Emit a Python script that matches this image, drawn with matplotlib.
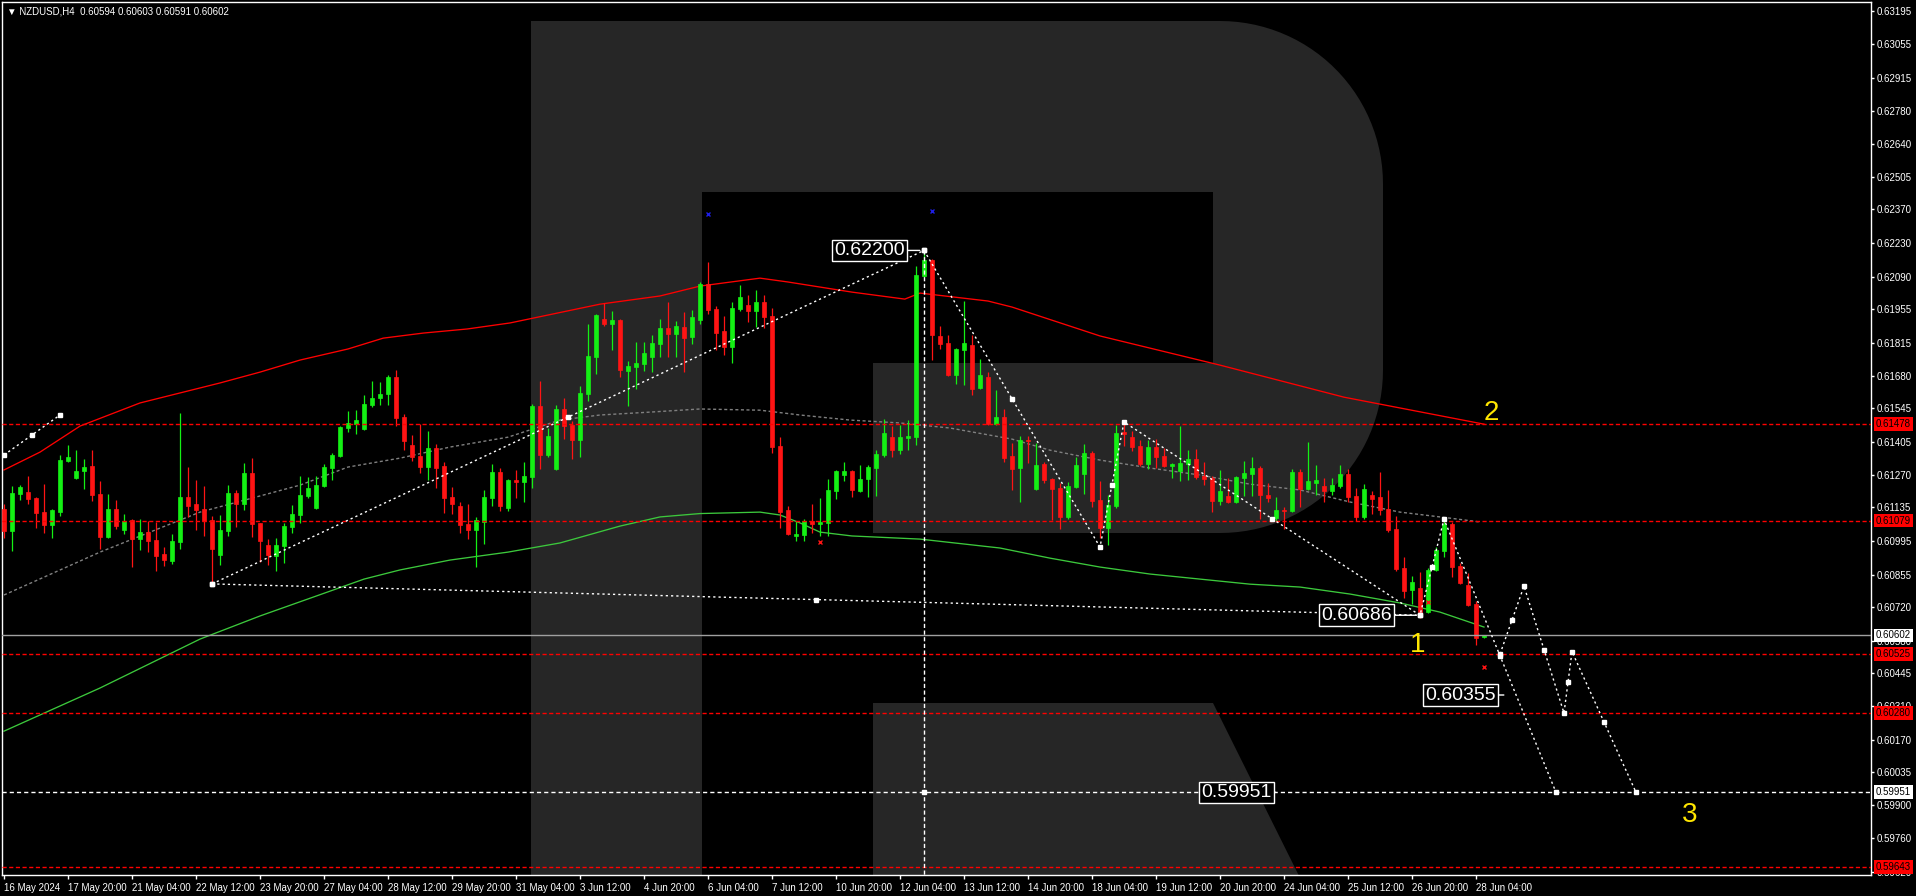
import numpy as np
import matplotlib
matplotlib.use('Agg')
import matplotlib.pyplot as plt
from matplotlib.patches import Polygon
from matplotlib import transforms

plt.rcParams['font.family'] = ['Liberation Sans', 'DejaVu Sans']

# ---------------- data ----------------
title = '\u25BC NZDUSD,H4  0.60594 0.60603 0.60591 0.60602'

opens = [0.61127,0.61036,0.61189,0.61197,0.61172,0.61114,0.61060,0.61114,0.61326,0.61255,
 0.61285,0.61305,0.61189,0.61011,0.61127,0.61040,0.61081,0.61002,0.61031,0.60998,
 0.60940,0.60911,0.60990,0.61177,0.61148,0.61127,0.61081,0.60936,0.61036,0.61193,
 0.61148,0.61276,0.61068,0.60977,0.60931,0.60973,0.61052,0.61102,0.61180,0.61131,
 0.61222,0.61297,0.61346,0.61463,0.61479,0.61458,0.61558,0.61587,0.61604,0.61674,
 0.61508,0.61392,0.61346,0.61301,0.61380,0.61305,0.61176,0.61139,0.61064,0.61039,
 0.61073,0.61172,0.61280,0.61131,0.61247,0.61239,0.61259,0.61554,0.61351,0.61292,
 0.61541,0.61475,0.61413,0.61604,0.61757,0.61915,0.61894,0.61911,0.61699,0.61716,
 0.61728,0.61757,0.61811,0.61877,0.61853,0.61882,0.61840,0.61911,0.62060,0.61956,
 0.61865,0.61799,0.61956,0.61973,0.61948,0.61985,0.61927,0.61388,0.61123,0.61014,
 0.61019,0.61077,0.61064,0.61068,0.61201,0.61267,0.61284,0.61201,0.61251,0.61297,
 0.61351,0.61425,0.61371,0.61421,0.61425,0.62093,0.62160,0.61844,0.61815,0.61682,
 0.61786,0.61807,0.61629,0.61674,0.61479,0.61508,0.61347,0.61297,0.61413,0.61210,
 0.61314,0.61251,0.61214,0.61094,0.61218,0.61272,0.61359,0.61164,0.61048,0.61139,
 0.61446,0.61426,0.61388,0.61314,0.61384,0.61347,0.61305,0.61284,0.61314,0.61334,
 0.61264,0.61255,0.61160,0.61181,0.61156,0.61255,0.61272,0.61297,0.61185,0.61090,
 0.61123,0.61119,0.61281,0.61210,0.61235,0.61223,0.61202,0.61223,0.61272,0.61181,
 0.61094,0.61185,0.61177,0.61127,0.61044,0.60882,0.60791,0.60800,0.60700,0.60874,
 0.60953,0.61065,0.60891,0.60812,0.60733,0.60594]
highs = [0.61148,0.61222,0.61226,0.61264,0.61175,0.61231,0.61127,0.61351,0.61392,0.61372,
 0.61334,0.61372,0.61243,0.61189,0.61164,0.61106,0.61085,0.61085,0.61077,0.61073,
 0.60969,0.61023,0.61525,0.61301,0.61247,0.61222,0.61098,0.61102,0.61226,0.61206,
 0.61318,0.61338,0.61070,0.61002,0.61006,0.61068,0.61143,0.61263,0.61259,0.61263,
 0.61313,0.61359,0.61471,0.61533,0.61537,0.61599,0.61658,0.61653,0.61682,0.61703,
 0.61521,0.61433,0.61479,0.61450,0.61396,0.61321,0.61218,0.61155,0.61147,0.61093,
 0.61205,0.61313,0.61297,0.61251,0.61288,0.61321,0.61562,0.61658,0.61463,0.61558,
 0.61587,0.61492,0.61637,0.61894,0.61935,0.61981,0.61948,0.61915,0.61741,0.61819,
 0.61819,0.61848,0.61915,0.61985,0.61906,0.61944,0.61952,0.62068,0.62151,0.61969,
 0.61927,0.61985,0.62056,0.62014,0.62035,0.62014,0.61960,0.61425,0.61139,0.61077,
 0.61085,0.61147,0.61172,0.61251,0.61288,0.61321,0.61288,0.61309,0.61309,0.61371,
 0.61500,0.61471,0.61475,0.61496,0.62135,0.62200,0.62163,0.61886,0.61848,0.61794,
 0.61989,0.61848,0.61749,0.61695,0.61620,0.61541,0.61399,0.61430,0.61430,0.61399,
 0.61322,0.61255,0.61235,0.61239,0.61343,0.61396,0.61367,0.61243,0.61185,0.61475,
 0.61493,0.61450,0.61413,0.61413,0.61417,0.61380,0.61318,0.61471,0.61372,0.61376,
 0.61322,0.61264,0.61289,0.61255,0.61264,0.61326,0.61343,0.61306,0.61235,0.61177,
 0.61136,0.61293,0.61293,0.61405,0.61310,0.61256,0.61256,0.61310,0.61293,0.61214,
 0.61231,0.61202,0.61281,0.61206,0.61098,0.60928,0.60849,0.60866,0.60882,0.60970,
 0.61090,0.61073,0.60903,0.60862,0.60746,0.60603]
lows = [0.61008,0.60954,0.61164,0.61148,0.61049,0.61029,0.61008,0.61099,0.61322,0.61250,
 0.61210,0.61161,0.60962,0.61008,0.61045,0.61025,0.60888,0.60958,0.60950,0.60871,
 0.60892,0.60900,0.60962,0.61095,0.61041,0.61016,0.60816,0.60896,0.61016,0.61054,
 0.61123,0.61012,0.60908,0.60894,0.60869,0.60902,0.61027,0.61068,0.61172,0.61127,
 0.61218,0.61247,0.61342,0.61446,0.61438,0.61454,0.61550,0.61558,0.61558,0.61471,
 0.61371,0.61326,0.61276,0.61247,0.61214,0.61110,0.61106,0.61027,0.61002,0.60887,
 0.60981,0.61139,0.61118,0.61118,0.61172,0.61156,0.61214,0.61292,0.61342,0.61288,
 0.61417,0.61334,0.61342,0.61575,0.61687,0.61886,0.61786,0.61674,0.61554,0.61624,
 0.61699,0.61695,0.61757,0.61757,0.61757,0.61695,0.61811,0.61894,0.61936,0.61786,
 0.61765,0.61732,0.61948,0.61902,0.61882,0.61877,0.61359,0.61048,0.61019,0.60994,
 0.60994,0.61027,0.61014,0.61014,0.61168,0.61243,0.61176,0.61197,0.61176,0.61180,
 0.61342,0.61342,0.61355,0.61371,0.61392,0.62090,0.61745,0.61790,0.61678,0.61645,
 0.61641,0.61599,0.61624,0.61475,0.61475,0.61321,0.61206,0.61157,0.61319,0.61206,
 0.61236,0.61081,0.61044,0.61085,0.61214,0.61189,0.61135,0.61006,0.60977,0.61131,
 0.61388,0.61367,0.61305,0.61293,0.61297,0.61301,0.61255,0.61243,0.61247,0.61251,
 0.61226,0.61114,0.61143,0.61152,0.61152,0.61181,0.61181,0.61086,0.61156,0.61077,
 0.61044,0.61115,0.61136,0.61206,0.61185,0.61156,0.61185,0.61214,0.61156,0.61077,
 0.61086,0.61107,0.61102,0.61032,0.60870,0.60758,0.60733,0.60675,0.60696,0.60870,
 0.60928,0.60845,0.60816,0.60725,0.60563,0.60591]
closes = [0.61036,0.61193,0.61218,0.61168,0.61110,0.61060,0.61123,0.61330,0.61343,0.61285,
 0.61301,0.61185,0.61011,0.61127,0.61056,0.61077,0.61002,0.61031,0.60994,0.60932,
 0.60915,0.60994,0.61177,0.61139,0.61123,0.61077,0.60961,0.61040,0.61193,0.61148,
 0.61276,0.61065,0.60995,0.60936,0.60977,0.61056,0.61106,0.61185,0.61214,0.61226,
 0.61301,0.61351,0.61467,0.61483,0.61496,0.61562,0.61587,0.61604,0.61674,0.61504,
 0.61409,0.61342,0.61301,0.61380,0.61297,0.61172,0.61147,0.61060,0.61039,0.61081,
 0.61176,0.61280,0.61139,0.61247,0.61239,0.61263,0.61554,0.61351,0.61429,0.61541,
 0.61471,0.61413,0.61608,0.61761,0.61931,0.61894,0.61911,0.61703,0.61720,0.61732,
 0.61774,0.61815,0.61877,0.61853,0.61886,0.61836,0.61923,0.62060,0.61952,0.61857,
 0.61799,0.61960,0.62006,0.61948,0.61985,0.61923,0.61384,0.61114,0.61023,0.61023,
 0.61077,0.61064,0.61073,0.61205,0.61284,0.61284,0.61205,0.61251,0.61301,0.61355,
 0.61442,0.61371,0.61425,0.61429,0.62097,0.62160,0.61848,0.61811,0.61682,0.61790,
 0.61815,0.61624,0.61682,0.61479,0.61508,0.61338,0.61293,0.61413,0.61408,0.61309,
 0.61247,0.61210,0.61094,0.61222,0.61309,0.61359,0.61160,0.61048,0.61143,0.61442,
 0.61438,0.61384,0.61314,0.61384,0.61343,0.61305,0.61314,0.61318,0.61334,0.61260,
 0.61251,0.61160,0.61201,0.61156,0.61260,0.61276,0.61297,0.61185,0.61173,0.61123,
 0.61119,0.61281,0.61210,0.61243,0.61248,0.61202,0.61227,0.61272,0.61177,0.61094,
 0.61210,0.61169,0.61123,0.61040,0.60878,0.60787,0.60824,0.60700,0.60874,0.60957,
 0.61065,0.60887,0.60820,0.60729,0.60592,0.60602]

# moving averages: (bar index, price)
red_ma_x = [0, 4.5, 9.5, 17, 27, 32, 37, 43, 47.4, 52.4, 57.9, 63.25, 74.5, 82, 87,
            94.5, 98, 106, 112.6, 114.5, 123, 126, 137, 152, 167.5, 185]
red_ma_y = [0.61289, 0.61363, 0.61471, 0.61567, 0.61650, 0.61695, 0.61745, 0.61791,
            0.61836, 0.61857, 0.61874, 0.61899, 0.61977, 0.62011, 0.62052, 0.62085,
            0.62069, 0.62027, 0.61998, 0.62023, 0.61990, 0.61965, 0.61845, 0.61724,
            0.61591, 0.61479]
green_ma_x = [0, 12, 24.5, 32, 45, 49.5, 55.75, 63, 69.5, 77, 82, 87, 94.5, 97, 99.5,
              102, 106, 114.5, 124.5, 130.75, 137, 143.25, 149.5, 155.75, 162, 168.25,
              174.5, 179.5, 185]
green_ma_y = [0.60205, 0.60384, 0.60587, 0.60683, 0.60836, 0.60874, 0.60915, 0.60948,
              0.60986, 0.61056, 0.61094, 0.61108, 0.61114, 0.61102, 0.61069, 0.61031,
              0.61015, 0.61002, 0.60965, 0.60923, 0.60886, 0.60857, 0.60836, 0.60815,
              0.60803, 0.60774, 0.60737, 0.60699, 0.60637]
gray_ma_x = [0, 12, 24.5, 32, 37, 43, 49.5, 55.75, 63, 69.5, 74.5, 80.75, 87, 94.5, 99.5,
             105.75, 112, 118.25, 126, 130.75, 137, 143.25, 149.5, 155.75, 162, 168.25,
             174.5, 180.75, 184.5]
gray_ma_y = [0.60770, 0.60948, 0.61114, 0.61181, 0.61226, 0.61301, 0.61338, 0.61384,
             0.61425, 0.61496, 0.61517, 0.61529, 0.61542, 0.61537, 0.61517, 0.61496,
             0.61484, 0.61463, 0.61417, 0.61371, 0.61330, 0.61297, 0.61268, 0.61230,
             0.61206, 0.61156, 0.61114, 0.61089, 0.61073]

# horizontal levels
red_levels = [0.61478, 0.61079, 0.60525, 0.60280, 0.59643]
current_price = 0.60602
target_level = 0.59951

# forecast wave paths (bar index, price)
fc_paths = [
    ([0, 7], [0.61351, 0.61517]),
    ([26, 115], [0.60816, 0.62200]),
    ([26, 177], [0.60816, 0.60686]),
    ([115, 137, 140, 177, 180, 194], [0.62200, 0.60969, 0.61488, 0.60686, 0.61085, 0.59951]),
    ([187, 190, 195, 196, 204], [0.60525, 0.60807, 0.60280, 0.60535, 0.59951]),
]
vline_bar = 115
vline_top = 0.62200

fc_labels = [('0.62200', 115, 0.62200, -19),
             ('0.60686', 177, 0.60686, -28),
             ('0.60355', 188, 0.60355, -12),
             ('0.59951', 159.5, 0.59951, -8)]
wave_labels = [('1', 176.75, 0.60562), ('2', 185.9, 0.61525), ('3', 210.75, 0.59857)]

frac_up_x, frac_up_y = [88, 116], [0.62351, 0.62363]
frac_dn_x, frac_dn_y = [102, 178, 185], [0.60990, 0.60741, 0.60471]

ytick_vals = [0.63195, 0.63055, 0.62915, 0.62780, 0.62640, 0.62505, 0.62370, 0.62230,
              0.62090, 0.61955, 0.61815, 0.61680, 0.61545, 0.61405, 0.61270, 0.61135,
              0.60995, 0.60855, 0.60720, 0.60580, 0.60445, 0.60310, 0.60170, 0.60035,
              0.59900, 0.59760, 0.59620]
xtick_labels = ['16 May 2024', '17 May 20:00', '21 May 04:00', '22 May 12:00', '23 May 20:00',
                '27 May 04:00', '28 May 12:00', '29 May 20:00', '31 May 04:00', '3 Jun 12:00',
                '4 Jun 20:00', '6 Jun 04:00', '7 Jun 12:00', '10 Jun 20:00', '12 Jun 04:00',
                '13 Jun 12:00', '14 Jun 20:00', '18 Jun 04:00', '19 Jun 12:00', '20 Jun 20:00',
                '24 Jun 04:00', '25 Jun 12:00', '26 Jun 20:00', '28 Jun 04:00']
xtick_step = 8

# ---------------- figure ----------------
W, H = 1916, 896
fig = plt.figure(figsize=(W / 100, H / 100), dpi=100, facecolor='black')
ax = fig.add_axes([2 / W, 21 / H, 1869 / W, 873 / H])
ax.set_facecolor('black')

YMIN, YMAX = 0.59608, 0.63231
XMIN, XMAX = -0.25, 233.375

# watermark "R" in pixel space
pix = transforms.Affine2D().scale(1 / W, -1 / H).translate(0, 1) + fig.transFigure
r = 163
t1 = np.linspace(np.pi / 2, 0, 30)
t2 = np.linspace(0, -np.pi / 2, 30)
arc1 = np.column_stack([1220 + r * np.cos(t1), 184 - r * np.sin(t1)])
arc2 = np.column_stack([1220 + r * np.cos(t2), 370 - r * np.sin(t2)])
bowl = np.vstack([[[531, 21]], arc1, arc2,
                  [[873, 533], [873, 363], [1213, 363], [1213, 192], [702, 192],
                   [702, 900], [531, 900]]])
leg = np.array([[873, 703], [1213, 703], [1311, 900], [873, 900]])
for poly in (bowl, leg):
    p = Polygon(poly, closed=True, facecolor='#262626', edgecolor='none',
                transform=pix, zorder=0)
    ax.add_patch(p)

# candles
idx = np.arange(len(opens))
o = np.array(opens); h = np.array(highs); l = np.array(lows); c = np.array(closes)
up = c >= o
GREEN, RED = '#14f014', '#ff1414'
cols = np.where(up, GREEN, RED)
ax.vlines(idx, l, h, colors=cols, lw=0.9, zorder=3)
ax.bar(idx, np.abs(c - o), bottom=np.minimum(o, c), width=0.62, color=cols,
       edgecolor=cols, linewidth=0.5, zorder=4)

# moving averages
ax.plot(red_ma_x, red_ma_y, color='#ff0000', lw=0.95, zorder=2)
ax.plot(green_ma_x, green_ma_y, color='#3cc83c', lw=0.95, zorder=2)
ax.plot(gray_ma_x, gray_ma_y, color='#808080', lw=1.0, ls=(0, (2.2, 1.8)), zorder=2)

# level lines
for lv in red_levels:
    ax.axhline(lv, color='#ff0000', lw=1.0, ls=(0, (3, 1.8)), zorder=4.5)
ax.axhline(current_price, color='#a0a0a0', lw=1.0, zorder=4.5)
ax.axhline(target_level, color='white', lw=1.0, ls=(0, (3, 2.2)), zorder=4.5)

# forecast paths
for xs, ys in fc_paths:
    ax.plot(xs, ys, color='white', lw=1.0, ls=(0, (1.6, 2.2)), zorder=6)
    mx = [(xs[k] + xs[k + 1]) / 2 for k in range(len(xs) - 1)]
    my = [(ys[k] + ys[k + 1]) / 2 for k in range(len(ys) - 1)]
    ax.plot(list(xs) + mx, list(ys) + my, ls='none', marker='s', ms=3.2,
            color='white', mec='white', zorder=7)
ax.plot([vline_bar, vline_bar], [vline_top, YMIN], color='white', lw=1.0,
        ls=(0, (3, 1.8)), zorder=6)
ax.plot([vline_bar], [target_level], ls='none', marker='s', ms=3.2, color='white', zorder=7)

ax.plot(frac_up_x, frac_up_y, ls='none', marker='x', ms=3, mew=1, color='#1e1ee6', zorder=7)
ax.plot(frac_dn_x, frac_dn_y, ls='none', marker='x', ms=3, mew=1, color='#ff1414', zorder=7)

for txt, bx, by, dx in fc_labels:
    ax.annotate(txt, xy=(bx, by), xytext=(dx, 0), textcoords='offset pixels',
                ha='right', va='center', color='white', fontsize=14,
                bbox=dict(boxstyle='square,pad=0.12', fc='black', ec='white', lw=1),
                arrowprops=dict(arrowstyle='-', color='white', lw=1, shrinkA=0, shrinkB=3),
                zorder=8)

for txt, wx, wy in wave_labels:
    ax.text(wx, wy, txt, color='#ffe600', fontsize=20, ha='center', va='center', zorder=8)

# axes
ax.set_xlim(XMIN, XMAX)
ax.set_ylim(YMIN, YMAX)
for s in ax.spines.values():
    s.set_color('white')
    s.set_linewidth(1.0)
ax.yaxis.tick_right()
ax.set_yticks(ytick_vals)
ax.set_yticklabels(['%.5f' % v for v in ytick_vals])
ax.tick_params(axis='y', colors='white', length=2.5, width=1, pad=1.5, labelsize=7)
xt = [k * xtick_step for k in range(len(xtick_labels))]
ax.set_xticks(xt)
ax.set_xticklabels(xtick_labels)
ax.tick_params(axis='x', colors='white', length=3, width=1, pad=2.5, labelsize=7)
for lbl in ax.get_xticklabels():
    lbl.set_ha('left')

# price labels on the right scale
blend = transforms.blended_transform_factory(ax.transAxes, ax.transData)
xr = 1 + 5 / 1869
for lv in red_levels:
    ax.text(xr, lv, '%.5f' % lv, transform=blend, ha='left', va='center', fontsize=7,
            color='black', clip_on=False, zorder=20,
            bbox=dict(boxstyle='square,pad=0.2', fc='#ff0000', ec='none'))
for lv in (current_price, target_level):
    ax.text(xr, lv, '%.5f' % lv, transform=blend, ha='left', va='center', fontsize=7,
            color='black', clip_on=False, zorder=20,
            bbox=dict(boxstyle='square,pad=0.2', fc='white', ec='none'))

fig.text(7 / W, 1 - 11 / H, title, color='white', fontsize=7, ha='left', va='center')

fig.savefig('out.png', dpi=100, facecolor='black')
